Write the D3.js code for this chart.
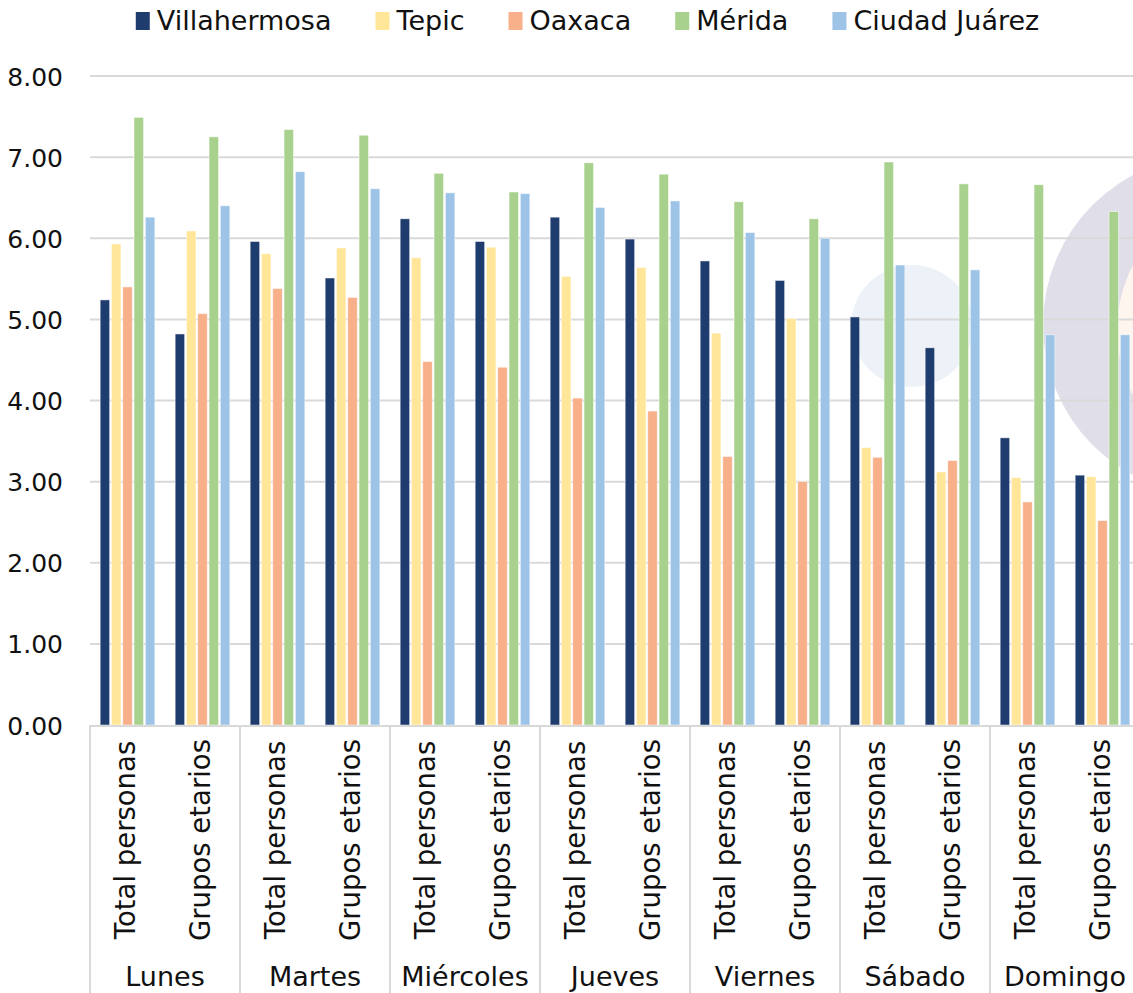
<!DOCTYPE html>
<html>
<head>
<meta charset="utf-8">
<script src="https://cdn.jsdelivr.net/npm/d3@7"></script>
<style>
  html, body { margin: 0; padding: 0; background: #ffffff; }
  svg { display: block; }
  text { font-family: "DejaVu Sans", sans-serif; fill: #111; }
</style>
</head>
<body>
<svg id="chart" width="1133" height="993"></svg>
<script>
// Days of the week (outer category level)
const days = ["Lunes", "Martes", "Miércoles", "Jueves", "Viernes", "Sábado", "Domingo"];
// Inner category level, repeated for each day
const groups = ["Total personas", "Grupos etarios"];
// Cities shown as series
const cities = ["Villahermosa", "Tepic", "Oaxaca", "Mérida", "Ciudad Juárez"];
const cityColors = ["#1f3c6e", "#ffe699", "#f8b08a", "#a9d18e", "#9dc3e6"];

// Values per city, in order Lunes/Total, Lunes/Grupos, Martes/Total, ...
const villahermosa = [5.24, 4.82, 5.96, 5.51, 6.24, 5.96, 6.26, 5.99, 5.72, 5.48, 5.03, 4.65, 3.54, 3.08];
const tepic        = [5.93, 6.09, 5.81, 5.88, 5.76, 5.89, 5.53, 5.64, 4.83, 5.01, 3.42, 3.12, 3.05, 3.06];
const oaxaca       = [5.40, 5.07, 5.38, 5.27, 4.48, 4.41, 4.03, 3.87, 3.31, 3.00, 3.30, 3.26, 2.75, 2.52];
const merida       = [7.49, 7.25, 7.34, 7.27, 6.80, 6.57, 6.93, 6.79, 6.45, 6.24, 6.94, 6.67, 6.66, 6.33];
const ciudadJuarez = [6.26, 6.40, 6.82, 6.61, 6.56, 6.55, 6.38, 6.46, 6.07, 6.00, 5.67, 5.61, 4.81, 4.81];
const seriesValues = [villahermosa, tepic, oaxaca, merida, ciudadJuarez];

// Y-axis tick values
const yTicks = [0, 1, 2, 3, 4, 5, 6, 7, 8];

const svg = d3.select("#chart");

// Flattened two-level categories
const cats = [];
days.forEach(d => groups.forEach(g => cats.push({ key: d + "|" + g, day: d, group: g })));

const plotLeft = 90, plotRight = 1140, plotTop = 76, plotBottom = 725;

const x0 = d3.scaleBand().domain(cats.map(c => c.key)).range([plotLeft, plotRight]).padding(0);
const x1 = d3.scaleBand().domain(cities).range([0, x0.bandwidth()]).paddingInner(0.16).paddingOuter(0.9);
const y = d3.scaleLinear().domain([0, 8]).range([plotBottom, plotTop]);

// Decorative background circles in the plot area
const deco = svg.append("g");
deco.append("circle").attr("cx", 912).attr("cy", 326).attr("r", 61).attr("fill", "#edf2f9");
deco.append("circle").attr("cx", 1213).attr("cy", 325).attr("r", 170).attr("fill", "#e0dfe9");
deco.append("circle").attr("cx", 1257).attr("cy", 330).attr("r", 140).attr("fill", "#fdf5ee");

// Horizontal gridlines
svg.append("g")
  .selectAll("line")
  .data(yTicks.filter(t => t > 0))
  .join("line")
  .attr("x1", plotLeft).attr("x2", 1133)
  .attr("y1", d => y(d)).attr("y2", d => y(d))
  .attr("stroke", "#d9d9d9").attr("stroke-width", 2);

// Y axis labels
const yAxis = d3.axisLeft(y).tickValues(yTicks).tickFormat(d3.format(".2f")).tickSize(0).tickPadding(0);
const gy = svg.append("g").attr("transform", "translate(63,0)").call(yAxis);
gy.select(".domain").remove();
gy.selectAll("text")
  .attr("font-size", 25)
  .attr("font-family", "DejaVu Sans, sans-serif")
  .attr("dy", "0.36em")
  .attr("fill", "#111");

// Bars
const catG = svg.append("g")
  .selectAll("g")
  .data(cats)
  .join("g")
  .attr("transform", d => `translate(${x0(d.key)},0)`);

catG.selectAll("rect")
  .data((d, i) => cities.map((c, j) => ({ city: c, value: seriesValues[j][i], color: cityColors[j] })))
  .join("rect")
  .attr("x", d => x1(d.city))
  .attr("width", x1.bandwidth())
  .attr("y", d => y(d.value))
  .attr("height", d => y(0) - y(d.value))
  .attr("fill", d => d.color)
  .attr("stroke", "#ffffff")
  .attr("stroke-opacity", 0.6)
  .attr("stroke-width", 0.8);

// X axis line and day separators
const axisG = svg.append("g");
axisG.append("line")
  .attr("x1", plotLeft).attr("x2", 1133)
  .attr("y1", plotBottom + 1).attr("y2", plotBottom + 1)
  .attr("stroke", "#d9d9d9").attr("stroke-width", 2);

const dayEdges = days.map(d => x0(d + "|" + groups[0]));
axisG.selectAll("line.sep")
  .data(dayEdges)
  .join("line")
  .attr("class", "sep")
  .attr("x1", d => d).attr("x2", d => d)
  .attr("y1", plotBottom).attr("y2", 993)
  .attr("stroke", "#d9d9d9").attr("stroke-width", 2);

// Inner category labels (rotated)
axisG.selectAll("text.sub")
  .data(cats)
  .join("text")
  .attr("class", "sub")
  .attr("transform", d => `translate(${x0(d.key) + x0.bandwidth() / 2 + 7},840) rotate(-90)`)
  .attr("text-anchor", "middle")
  .attr("font-size", 27.5)
  .text(d => d.group);

// Day labels
axisG.selectAll("text.day")
  .data(days)
  .join("text")
  .attr("class", "day")
  .attr("x", d => x0(d + "|" + groups[0]) + x0.bandwidth())
  .attr("y", 986)
  .attr("text-anchor", "middle")
  .attr("font-size", 27)
  .text(d => d);

// Legend
const legend = svg.append("g");
const items = legend.selectAll("g").data(cities).join("g");
items.append("rect")
  .attr("width", 14).attr("height", 18)
  .attr("y", 12)
  .attr("fill", (d, i) => cityColors[i]);
items.append("text")
  .attr("x", 21)
  .attr("y", 30)
  .attr("font-size", 27)
  .text(d => d);
const widths = [];
items.each(function () {
  const w = d3.select(this).select("text").node().getComputedTextLength();
  widths.push(21 + w);
});
const gap = 44;
const total = d3.sum(widths) + gap * (widths.length - 1);
let cursor = 587.5 - total / 2;
items.attr("transform", (d, i) => {
  const t = `translate(${cursor},0)`;
  cursor += widths[i] + gap;
  return t;
});
</script>
</body>
</html>
